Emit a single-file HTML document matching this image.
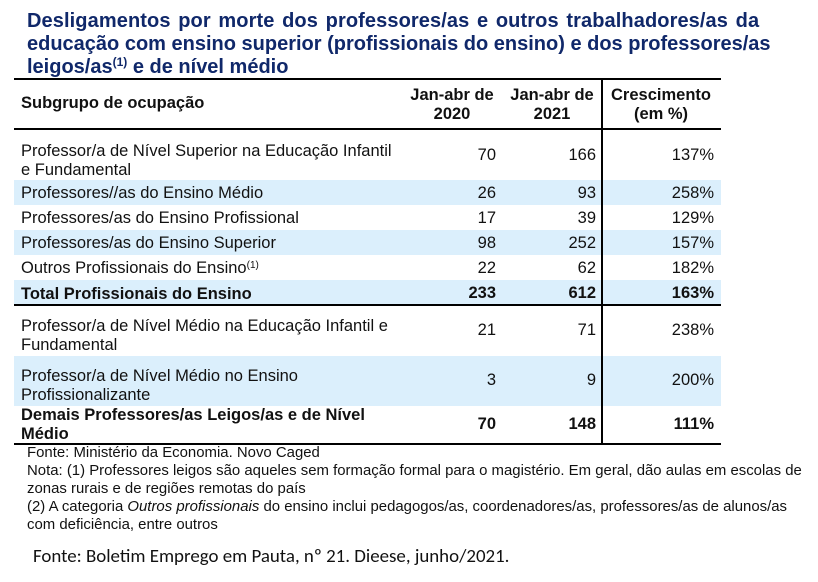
<!DOCTYPE html>
<html><head><meta charset="utf-8"><style>
body{margin:0;width:818px;height:582px;background:#fff;position:relative;overflow:hidden;font-family:"Liberation Sans",Arial,sans-serif;color:#111}
div{position:absolute;white-space:nowrap}
.t{left:27px;font-weight:bold;font-size:20px;color:#10286a;line-height:23px}
.bg{left:14px;width:707px;background:#dbeffc}
.hl{left:14px;width:707px;height:2px;background:#000}
.c{font-size:16.5px;line-height:19px}
.r1{right:322px;text-align:right}
.r2{right:222px;text-align:right}
.r3{right:104px;text-align:right}
.b{font-weight:bold}
.n{left:27px;font-size:15px;line-height:18px;transform:scaleX(0.995);transform-origin:0 0}
</style></head><body>
<div class="t" style="top:10px;letter-spacing:0.1px;word-spacing:2px">Desligamentos por morte dos professores/as e outros trabalhadores/as da</div>
<div class="t" style="top:33px">educação com ensino superior (profissionais do ensino) e dos professores/as</div>
<div class="t" style="top:56px">leigos/as<sup style="font-size:12px;vertical-align:7px;line-height:0">(1)</sup> e de nível médio</div>

<div class="bg" style="top:180px;height:25px"></div>
<div class="bg" style="top:230px;height:25px"></div>
<div class="bg" style="top:280px;height:25px"></div>
<div class="bg" style="top:356px;height:50px"></div>

<div class="hl" style="top:78px"></div>
<div class="hl" style="top:128px"></div>
<div class="hl" style="top:304px"></div>
<div class="hl" style="top:443px"></div>
<div style="left:601px;top:79px;width:2px;height:366px;background:#000"></div>

<div class="c b" style="left:21px;top:94px">Subgrupo de ocupação</div>
<div class="c b" style="left:402px;width:100px;text-align:center;top:86px">Jan-abr de<br>2020</div>
<div class="c b" style="left:502px;width:100px;text-align:center;top:86px">Jan-abr de<br>2021</div>
<div class="c b" style="left:605px;width:112px;text-align:center;top:86px">Crescimento<br>(em %)</div>

<div class="c" style="left:21px;top:142px">Professor/a de Nível Superior na Educação Infantil<br>e Fundamental</div>
<div class="c r1" style="top:146px">70</div><div class="c r2" style="top:146px">166</div><div class="c r3" style="top:146px">137%</div>

<div class="c" style="left:21px;top:184px">Professores//as do Ensino Médio</div>
<div class="c r1" style="top:184px">26</div><div class="c r2" style="top:184px">93</div><div class="c r3" style="top:184px">258%</div>

<div class="c" style="left:21px;top:209px">Professores/as do Ensino Profissional</div>
<div class="c r1" style="top:209px">17</div><div class="c r2" style="top:209px">39</div><div class="c r3" style="top:209px">129%</div>

<div class="c" style="left:21px;top:234px">Professores/as do Ensino Superior</div>
<div class="c r1" style="top:234px">98</div><div class="c r2" style="top:234px">252</div><div class="c r3" style="top:234px">157%</div>

<div class="c" style="left:21px;top:259px">Outros Profissionais do Ensino<sup style="font-size:10px;vertical-align:5px;line-height:0">(1)</sup></div>
<div class="c r1" style="top:259px">22</div><div class="c r2" style="top:259px">62</div><div class="c r3" style="top:259px">182%</div>

<div class="c b" style="left:21px;top:285px">Total Profissionais do Ensino</div>
<div class="c b r1" style="top:284px">233</div><div class="c b r2" style="top:284px">612</div><div class="c b r3" style="top:284px">163%</div>

<div class="c" style="left:21px;top:317px">Professor/a de Nível Médio na Educação Infantil e<br>Fundamental</div>
<div class="c r1" style="top:321px">21</div><div class="c r2" style="top:321px">71</div><div class="c r3" style="top:321px">238%</div>

<div class="c" style="left:21px;top:367px">Professor/a de Nível Médio no Ensino<br>Profissionalizante</div>
<div class="c r1" style="top:371px">3</div><div class="c r2" style="top:371px">9</div><div class="c r3" style="top:371px">200%</div>

<div class="c b" style="left:21px;top:406px">Demais Professores/as Leigos/as e de Nível<br>Médio</div>
<div class="c b r1" style="top:415px">70</div><div class="c b r2" style="top:415px">148</div><div class="c b r3" style="top:415px">111%</div>

<div class="n" style="top:444px">Fonte: Ministério da Economia. Novo Caged</div>
<div class="n" style="top:462px">Nota: (1) Professores leigos são aqueles sem formação formal para o magistério. Em geral, dão aulas em escolas de</div>
<div class="n" style="top:480px">zonas rurais e de regiões remotas do país</div>
<div class="n" style="top:498px">(2) A categoria <i>Outros profissionais</i> do ensino inclui pedagogos/as, coordenadores/as, professores/as de alunos/as</div>
<div class="n" style="top:516px">com deficiência, entre outros</div>

<div style="left:33px;top:545px;font-family:Carlito,'Liberation Sans',sans-serif;font-size:18.9px;color:#111">Fonte: Boletim Emprego em Pauta, nº 21. Dieese, junho/2021.</div>
</body></html>
